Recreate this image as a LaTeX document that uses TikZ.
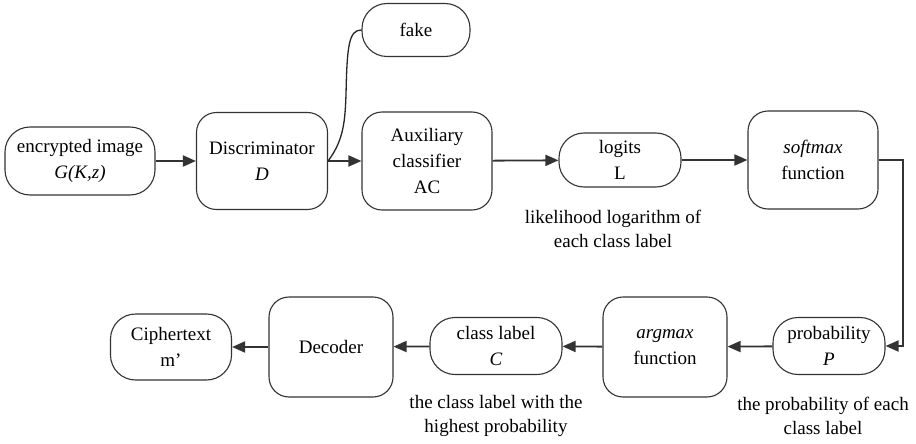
\documentclass[tikz,border=0pt]{standalone}
\usepackage{fontspec}
\setmainfont{LiberationSerif}[Extension=.ttf, UprightFont=*-Regular, ItalicFont=*-Italic, BoldFont=*-Bold, BoldItalicFont=*-BoldItalic]
\usetikzlibrary{arrows.meta}
\tikzset{
  box/.style={draw=black!80, line width=1.1pt, rounded corners=20pt, inner sep=0pt, align=center, font=\fontsize{19}{26}\selectfont},
  pill/.style={box, rounded corners=25pt},
  lbl/.style={inner sep=0pt, align=center, font=\fontsize{19}{24}\selectfont},
  arr/.style={draw=black!80, line width=1.8pt, -{Triangle[length=13pt,width=11pt]}},
  conn/.style={draw=black!85, line width=1.3pt}
}
\begin{document}
\begin{tikzpicture}[x=1pt,y=-1pt]
\useasboundingbox[fill=white] (0,0) rectangle (916,444);
\node[pill, minimum width=150pt, minimum height=68pt] (enc) at (80,161) {encrypted image\\\textit{G(K,z)}};
\node[box, minimum width=131pt, minimum height=97pt] (disc) at (262,161) {Discriminator\\\textit{D}};
\node[pill, minimum width=108pt, minimum height=53pt] (fake) at (416,30) {fake};
\node[box, minimum width=130pt, minimum height=98pt] (aux) at (427,161) {Auxiliary\\classifier\\AC};
\node[pill, minimum width=122pt, minimum height=54pt] (logits) at (620,160) {logits\\L};
\node[box, minimum width=130pt, minimum height=98pt] (soft) at (813,160) {\textit{softmax}\\function};
\node[pill, minimum width=112pt, minimum height=57pt] (prob) at (829,346) {probability\\\textit{P}};
\node[box, minimum width=124pt, minimum height=100pt] (argm) at (665,347) {\textit{argmax}\\function};
\node[pill, minimum width=132pt, minimum height=57pt] (cls) at (496,346) {class label\\\textit{C}};
\node[box, minimum width=124pt, minimum height=100pt] (dec) at (331,347) {Decoder};
\node[pill, minimum width=121pt, minimum height=66pt] (ciph) at (171,347) {Ciphertext\\m’};

\node[lbl] (l1) at (613,229) {likelihood logarithm of\\each class label};
\node[lbl] (l2) at (496,416) {the class label with the\\highest probability};
\node[lbl] (l3) at (823,416) {the probability of each\\class label};

\coordinate (fk) at (346,95);
\coordinate (turn) at (903,346);

\draw[arr] (enc) -- (disc);
\draw[arr] (disc) -- (aux);
\draw[arr] (aux) -- (logits);
\draw[arr] (logits) -- (soft);
\draw[arr] (soft.east) -| (turn) -- (prob.east);
\draw[arr] (prob) -- (argm);
\draw[arr] (argm) -- (cls);
\draw[arr] (cls) -- (dec);
\draw[arr] (dec) -- (ciph);
\draw[conn] (disc.east) .. controls (344,140) and (345,120) .. (fk) .. controls (347,45) and (349,30) .. (fake.west);
\end{tikzpicture}
\end{document}
